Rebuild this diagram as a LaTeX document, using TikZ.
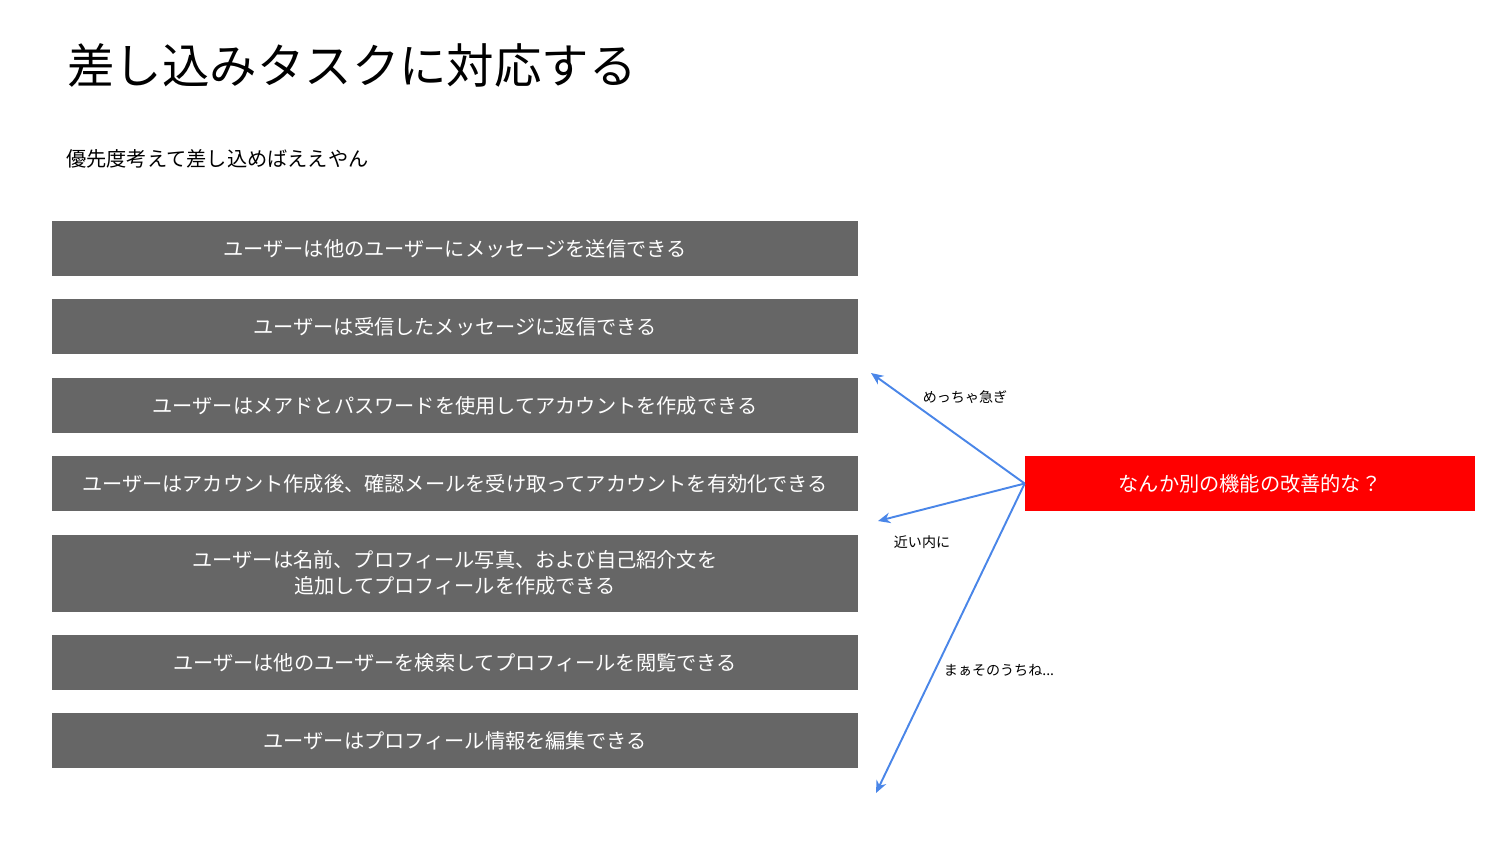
\documentclass[tikz,border=0pt]{standalone}
\usepackage{fontspec}
\setmainfont{Noto Sans CJK JP}
\usetikzlibrary{arrows.meta,positioning}
\definecolor{storygray}{HTML}{666666}
\definecolor{alertred}{HTML}{FF0000}
\definecolor{arrowblue}{HTML}{4A86E8}

\begin{document}
\begin{tikzpicture}[
		>={Stealth[length=7pt,width=6pt]},
		story/.style={fill=storygray, text=white, minimum width=16.12cm,
				minimum height=1.1cm, align=center, inner sep=0pt,
				font=\fontsize{11.5}{15}\selectfont},
		note/.style={font=\fontsize{8}{10}\selectfont, text=black},
		flow/.style={->, line width=1.1pt, arrowblue},
	]
	\useasboundingbox (0,0) rectangle (30,-16.88);

	\node[anchor=west, inner sep=0pt, font=\fontsize{27}{32}\selectfont] (title) at (1.34, -1.3)
	{差し込みタスクに対応する};

	\node[anchor=west, inner sep=0pt, font=\fontsize{11.5}{14}\selectfont] (subtitle) at (1.32, -3.18)
	{優先度考えて差し込めばええやん};

	\node[story] (story1) at (9.1, -4.97) {ユーザーは他のユーザーにメッセージを送信できる};
	\node[story] (story2) at (9.1, -6.53) {ユーザーは受信したメッセージに返信できる};
	\node[story] (story3) at (9.1, -8.11) {ユーザーはメアドとパスワードを使用してアカウントを作成できる};
	\node[story] (story4) at (9.1, -9.67) {ユーザーはアカウント作成後、確認メールを受け取ってアカウントを有効化できる};
	\node[story, minimum height=1.54cm] (story5) at (9.1, -11.46)
	{ユーザーは名前、プロフィール写真、および自己紹介文を\\追加してプロフィールを作成できる};
	\node[story] (story6) at (9.1, -13.25) {ユーザーは他のユーザーを検索してプロフィールを閲覧できる};
	\node[story] (story7) at (9.1, -14.81) {ユーザーはプロフィール情報を編集できる};

	\node[story, fill=alertred, minimum width=9cm] (interrupt) at (25.0, -9.67)
	{なんか別の機能の改善的な？};

	% where the new task could go
	\coordinate (soon) at (17.42, -7.46);
	\coordinate (later) at (17.56, -10.42);
	\coordinate (someday) at (17.52, -15.86);

	\draw[flow] (interrupt.west) -- (soon);
	\draw[flow] (interrupt.west) -- (later);
	\draw[flow] (interrupt.west) -- (someday);

	\node[note] (soonlabel) at (19.3, -7.94) {めっちゃ急ぎ};
	\node[note] (laterlabel) at (18.44, -10.84) {近い内に};
	\node[note] (somedaylabel) at (19.98, -13.4) {まぁそのうちね...};

\end{tikzpicture}
\end{document}
